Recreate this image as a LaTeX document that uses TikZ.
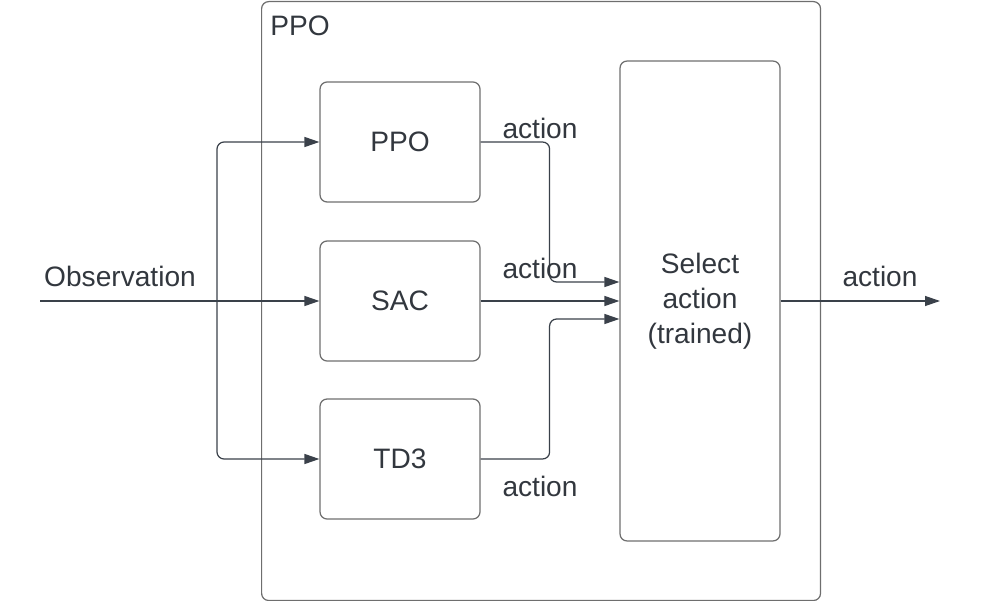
\documentclass[tikz,border=0pt]{standalone}
\usepackage{fontspec}
\setmainfont{Liberation Sans}
\usetikzlibrary{arrows.meta,calc}
\definecolor{linegray}{RGB}{58,65,74}
\definecolor{boxgray}{RGB}{110,110,110}
\definecolor{textgray}{RGB}{50,55,62}
\tikzset{
  block/.style={draw=boxgray, line width=0.7pt, rounded corners=4pt,
    minimum width=3.2cm, minimum height=2.4cm, inner sep=0pt},
  flow/.style={draw=linegray, line width=0.7pt, rounded corners=4pt,
    -{Triangle[length=0.3cm,width=0.2cm]}},
  lbl/.style={text=textgray, inner sep=0pt},
}
\begin{document}
\begin{tikzpicture}[x=0.02cm, y=-0.02cm, font=\fontsize{16}{20}\selectfont, text=textgray]
  \useasboundingbox (0, 0) rectangle (1000, 601);

  % Outer PPO frame
  \node [block, minimum width=11.18cm, minimum height=11.98cm,
    anchor=north west] (frame) at (261, 1) {};
  \node [lbl] (framelbl) at (300, 26) {PPO};

  % Agents
  \node [block] (ppo) at (400, 142) {PPO};
  \node [block] (sac) at (400, 301) {SAC};
  \node [block] (td3) at (400, 459) {TD3};

  % Selector
  \node [block, minimum height=9.6cm, align=center] (select) at (700, 301)
    {Select\\action\\(trained)};

  % Input
  \coordinate (obs) at (40, 301);
  \coordinate (split) at (217, 301);
  \draw [flow] (obs) -- (sac.west);
  \node [lbl] (obslbl) at (120, 276) {Observation};
  \draw [flow] (split) |- (ppo.west);
  \draw [flow] (split) |- (td3.west);

  % Actions into selector
  \draw [flow] (ppo.east) -- ++(69, 0) |- ([yshift=0.38cm]select.west);
  \draw [flow] (sac.east) -- (select.west);
  \draw [flow] (td3.east) -- ++(69, 0) |- ([yshift=-0.36cm]select.west);
  \node [lbl] (actppo) at (540, 128) {action};
  \node [lbl] (actsac) at (540, 268) {action};
  \node [lbl] (acttd3) at (540, 486) {action};

  % Output
  \coordinate (out) at (940, 301);
  \draw [flow] (select.east) -- (out);
  \node [lbl] (actout) at (880, 276) {action};
\end{tikzpicture}
\end{document}
